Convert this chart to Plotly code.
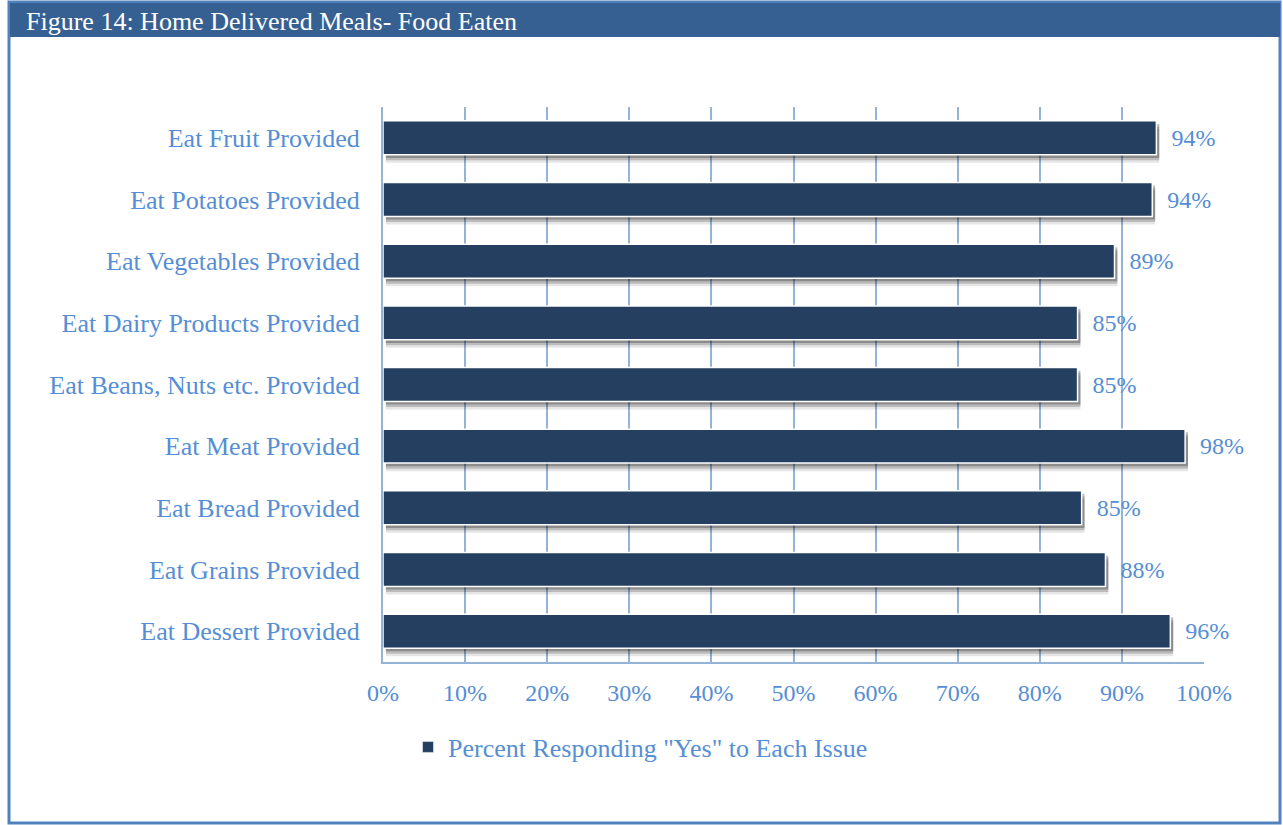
import plotly.graph_objects as go

categories = [
    "Eat Fruit Provided",
    "Eat Potatoes Provided",
    "Eat Vegetables Provided",
    "Eat Dairy Products Provided",
    "Eat Beans, Nuts etc. Provided",
    "Eat Meat Provided",
    "Eat Bread Provided",
    "Eat Grains Provided",
    "Eat Dessert Provided",
]
pct_yes = [94.2, 93.7, 89.1, 84.6, 84.6, 97.7, 85.1, 88.0, 95.9]
x_ticks = [0, 10, 20, 30, 40, 50, 60, 70, 80, 90, 100]
x_tick_text = [f"{t}%" for t in x_ticks]
series_name = 'Percent Responding "Yes" to Each Issue'

W, H = 1283, 825
L, R, T, B = 383, 1204, 107, 662   # plot area in pixels

FONT = "Liberation Serif, Times New Roman, serif"
TXT = "#558ED5"
BAR = "#243F60"
GRID = "#95B3D7"


def px_x(p):
    return (p - L) / (R - L)


def px_y(p):
    return (B - p) / (B - T)


bw = 0.55
fig = go.Figure()
# soft shadow under each bar
for dy, alpha in [(0.13, 0.1), (0.09, 0.18), (0.05, 0.25)]:
    fig.add_trace(go.Bar(
        y=categories, x=pct_yes, base=0.35, orientation="h",
        width=bw, offset=-bw / 2 + dy,
        marker=dict(color=f"rgba(0,0,0,{alpha})", line=dict(width=0)),
        showlegend=False, hoverinfo="skip",
    ))
fig.add_trace(go.Bar(
    y=categories, x=pct_yes, orientation="h",
    width=bw, offset=-bw / 2,
    name=series_name, showlegend=False,
    marker=dict(color=BAR, line=dict(color="white", width=1.5)),
    text=[f"\u00a0\u00a0{v:.0f}%" for v in pct_yes],
    textposition="outside", cliponaxis=False,
    textfont=dict(family=FONT, size=24, color=TXT),
))
# legend entry with a bigger square swatch
fig.add_trace(go.Scatter(
    x=[None], y=[None], mode="markers", name=series_name,
    marker=dict(symbol="square", size=11, color=BAR,
                line=dict(color="white", width=0.5)),
))

fig.update_layout(
    width=W, height=H,
    margin=dict(l=L, r=W - R, t=T, b=H - B, pad=0),
    paper_bgcolor="white", plot_bgcolor="white",
    barmode="overlay",
    font=dict(family=FONT, color=TXT),
    showlegend=True,
    legend=dict(
        orientation="h", x=px_x(408), xanchor="left",
        y=px_y(747), yanchor="middle", itemwidth=30,
        font=dict(family=FONT, size=26, color=TXT),
        bgcolor="rgba(0,0,0,0)",
    ),
    xaxis=dict(
        range=[0, 100], tickvals=x_ticks, ticktext=x_tick_text,
        showgrid=True, gridcolor=GRID, gridwidth=2,
        showline=True, linecolor=GRID, linewidth=2,
        ticks="", zeroline=False, ticklabelstandoff=8,
        tickfont=dict(family=FONT, size=24, color=TXT),
    ),
    yaxis=dict(
        autorange="reversed", showgrid=False,
        showline=True, linecolor=GRID, linewidth=2,
        ticks="", ticklabelstandoff=16,
        tickfont=dict(family=FONT, size=26, color=TXT),
    ),
    shapes=[
        # outer frame
        dict(type="rect", xref="paper", yref="paper",
             x0=px_x(9), x1=px_x(1280), y0=px_y(823), y1=px_y(2),
             line=dict(color="#4F81BD", width=3), layer="below"),
        # title band
        dict(type="rect", xref="paper", yref="paper",
             x0=px_x(10), x1=px_x(1280), y0=px_y(37), y1=px_y(3),
             fillcolor="#376092", line=dict(width=0), layer="below"),
    ],
    annotations=[
        dict(text="Figure 14: Home Delivered Meals- Food Eaten",
             xref="paper", yref="paper", x=px_x(24), y=px_y(21),
             xanchor="left", yanchor="middle", showarrow=False,
             font=dict(family=FONT, size=26, color="white")),
    ],
)

fig.write_html(
    "out.html",
    config={"displayModeBar": False},
    post_script="document.body.style.margin='0';document.body.style.overflow='hidden';",
)
